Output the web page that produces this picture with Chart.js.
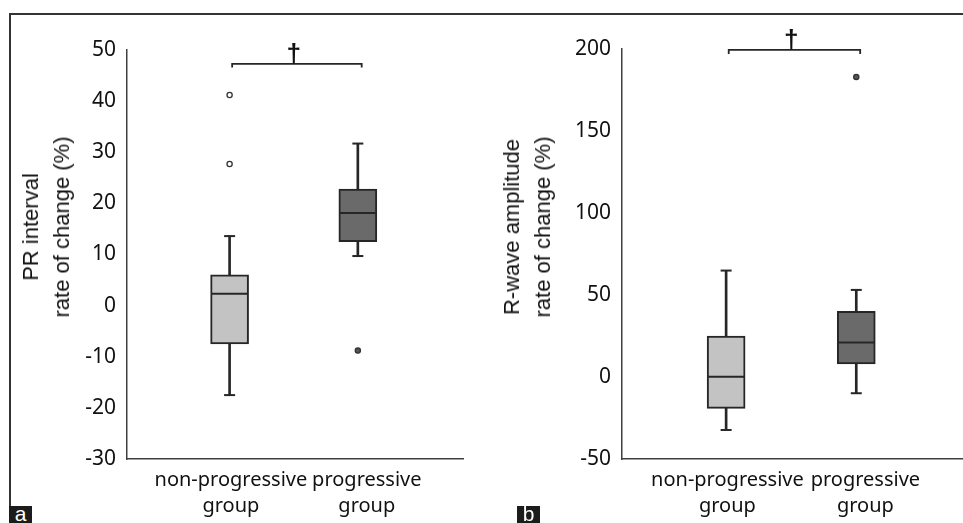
<!DOCTYPE html>
<html>
<head>
<meta charset="utf-8">
<script src="https://cdn.jsdelivr.net/npm/chart.js@4.4.1/dist/chart.umd.min.js"></script>
<style>
html, body { margin: 0; padding: 0; background: #fff; }
#wrap { position: relative; width: 963px; height: 523px; overflow: hidden; background: #fff; }
.frame { position: absolute; left: 9px; top: 13px; width: 960px; height: 493px; border-top: 2px solid #333; border-left: 2px solid #333; }
canvas { position: absolute; top: 0; }
.ytitle { position: absolute; font: 22px "Liberation Sans", Arial, sans-serif; color: #111; line-height: 31px; text-align: center; white-space: nowrap; transform: translate(-50%, -50%) rotate(-90deg); }
.tag { position: absolute; top: 506px; width: 23px; height: 17px; background: #1c1c1c; color: #fff; font: 21px "Liberation Sans", Arial, sans-serif; line-height: 15px; text-align: center; overflow: hidden; }
</style>
</head>
<body>
<div id="wrap">
  <div class="frame"></div>
  <canvas id="chartA" width="480" height="523" style="left:0"></canvas>
  <canvas id="chartB" width="483" height="523" style="left:480px"></canvas>
  <div class="ytitle" id="titleA" style="left:46px; top:227px"></div>
  <div class="ytitle" id="titleB" style="left:527px; top:227px"></div>
  <div class="tag" style="left:9px">a</div>
  <div class="tag" style="left:517px">b</div>
</div>
<script>
// ---------- data ----------
const categories = [['non-progressive', 'group'], ['progressive', 'group']];
const catPos = [1, 2];
const labelPos = [1.01, 2.07];
const sigMark = '†';

// Panel a: PR interval rate of change (%)
const prTitle = ['PR interval', 'rate of change (%)'];
const prMin = [-17.5, 9.7];
const prQ1 = [-7.5, 12.5];
const prMedian = [2.3, 18.1];
const prQ3 = [6.0, 22.8];
const prMax = [13.6, 31.7];
const prOutliers = [[41.2, 27.7], [-8.8]];
const prAxis = [-30, 50, 10];          // min, max, step
const prBracket = [1.02, 2.03, 47.3, 46.6]; // from, to, top, end

// Panel b: R-wave amplitude rate of change (%)
const rwTitle = ['R-wave amplitude', 'rate of change (%)'];
const rwMin = [-32.3, -9.9];
const rwQ1 = [-19.1, 8.0];
const rwMedian = [0.2, 21.0];
const rwQ3 = [25.0, 40.1];
const rwMax = [64.9, 53.1];
const rwOutliers = [[], [183]];
const rwAxis = [-50, 200, 50];
const rwBracket = [1.02, 2.03, 199.5, 197.0];

// ---------- styling ----------
const INK = '#262626';
const TXT = '#111111';
const FILLS = ['#c3c3c3', '#6a6a6a'];
const TICK_FONT = { family: '"Noto Sans", "Open Sans", sans-serif', size: 21 };
const XTICK_FONT = { family: '"Noto Sans", "Open Sans", sans-serif', size: 20, lineHeight: 1.32 };

const daggerPlugin = {
  id: 'dagger',
  afterDatasetsDraw(chart, args, opts) {
    const { ctx, scales: { x, y } } = chart;
    const px = x.getPixelForValue(opts.x);
    const py = y.getPixelForValue(opts.y);
    ctx.save();
    ctx.font = 'bold 100px "Liberation Sans", Arial, sans-serif';
    let m = ctx.measureText(opts.text);
    const h100 = m.actualBoundingBoxAscent + m.actualBoundingBoxDescent;
    const size = 100 * opts.height / h100;
    ctx.font = 'bold ' + size + 'px "Liberation Sans", Arial, sans-serif';
    m = ctx.measureText(opts.text);
    ctx.fillStyle = TXT;
    ctx.textAlign = 'center';
    ctx.textBaseline = 'alphabetic';
    ctx.fillText(opts.text, px, py - m.actualBoundingBoxDescent + 0.5);
    ctx.restore();
  }
};

function makeChart(canvasId, d) {
  const boxData = catPos.map((x, i) => ({ x, y: [d.q1[i], d.q3[i]] }));
  const whiskerData = catPos.map((x, i) => ({ x, y: [d.min[i], d.max[i]] }));
  const medData = catPos.map((x, i) => ({ x, y: d.med[i] }));
  const capData = [];
  catPos.forEach((x, i) => { capData.push({ x, y: d.min[i] }); capData.push({ x, y: d.max[i] }); });
  const outA = d.out[0].map(v => ({ x: catPos[0], y: v }));
  const outB = d.out[1].map(v => ({ x: catPos[1], y: v }));
  const br = d.bracket;
  const bracketData = [
    { x: br[0], y: br[3] }, { x: br[0], y: br[2] },
    { x: br[1], y: br[2] }, { x: br[1], y: br[3] }
  ];

  return new Chart(document.getElementById(canvasId), {
    type: 'bar',
    data: {
      datasets: [
        { type: 'line', data: bracketData, borderColor: INK, borderWidth: 1.8, pointRadius: 0, tension: 0, fill: false, clip: false, order: 0 },
        { type: 'scatter', data: outA, pointStyle: 'circle', radius: 2.6, borderWidth: 1.3, borderColor: '#333', backgroundColor: '#fff', order: 0 },
        { type: 'scatter', data: outB, pointStyle: 'circle', radius: 2.6, borderWidth: 1.3, borderColor: '#333', backgroundColor: '#555', order: 0 },
        { type: 'scatter', data: medData, pointStyle: 'line', radius: 18, borderWidth: 2, borderColor: INK, order: 1 },
        { type: 'scatter', data: capData, pointStyle: 'line', radius: 5.5, borderWidth: 2, borderColor: INK, order: 1 },
        { type: 'bar', data: boxData, backgroundColor: FILLS, borderColor: INK, borderWidth: 2, borderSkipped: false, barThickness: 38, grouped: false, order: 2 },
        { type: 'bar', data: whiskerData, backgroundColor: INK, borderWidth: 0, barThickness: 2, grouped: false, order: 3 }
      ]
    },
    options: {
      responsive: false,
      animation: false,
      events: [],
      layout: { padding: d.padding, autoPadding: false },
      plugins: {
        legend: { display: false },
        tooltip: { enabled: false },
        dagger: { text: sigMark, x: 1.5, y: br[2], height: 21 }
      },
      scales: {
        x: {
          type: 'linear',
          min: 0.2, max: 2.82,
          offset: false,
          grid: { display: false, drawTicks: false, offset: false },
          border: { display: true, color: '#404040', width: 1.5 },
          afterBuildTicks: s => { s.ticks = labelPos.map(v => ({ value: v })); },
          afterFit: s => { s.height = 64; },
          ticks: {
            autoSkip: false, maxRotation: 0, minRotation: 0,
            padding: 8,
            color: TXT,
            font: XTICK_FONT,
            callback: (v, i) => categories[i]
          }
        },
        y: {
          type: 'linear',
          min: d.axis[0], max: d.axis[1],
          grid: { display: false, drawTicks: false },
          border: { display: true, color: '#404040', width: 1.5 },
          afterFit: s => { s.width = d.yWidth; },
          ticks: {
            stepSize: d.axis[2],
            padding: 11,
            color: TXT,
            font: TICK_FONT,
            callback: v => String(v)
          }
        }
      }
    },
    plugins: [daggerPlugin]
  });
}

document.getElementById('titleA').innerHTML = prTitle.join('<br>');
document.getElementById('titleB').innerHTML = rwTitle.join('<br>');

makeChart('chartA', {
  min: prMin, q1: prQ1, med: prMedian, q3: prQ3, max: prMax, out: prOutliers,
  axis: prAxis, bracket: prBracket, yWidth: 127,
  padding: { top: 50, right: 17, bottom: 0, left: 0 }
});
makeChart('chartB', {
  min: rwMin, q1: rwQ1, med: rwMedian, q3: rwQ3, max: rwMax, out: rwOutliers,
  axis: rwAxis, bracket: rwBracket, yWidth: 142,
  padding: { top: 49, right: 0, bottom: 0, left: 0 }
});
</script>
</body>
</html>
